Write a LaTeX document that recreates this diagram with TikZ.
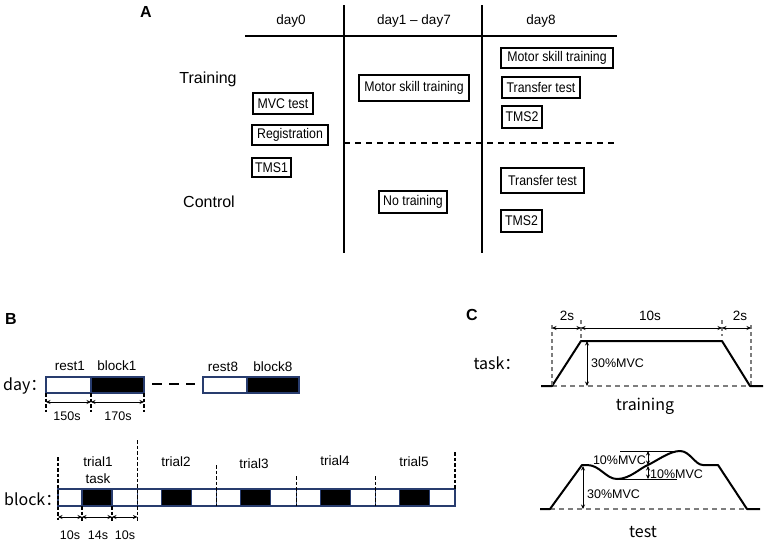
\documentclass[tikz,border=0pt]{standalone}
\usepackage{fontspec}
\setmainfont{Liberation Sans}
\newfontfamily\cjk{Noto Sans CJK SC}
\newfontfamily\narrowsans[FakeStretch=0.88]{Liberation Sans}
\usetikzlibrary{arrows.meta}
\definecolor{segblue}{RGB}{40,60,110}
\definecolor{midgray}{RGB}{125,125,125}
\begin{document}
\begin{tikzpicture}[x=1pt,y=-1pt,
  box/.style={draw,line width=1.3pt,inner sep=0pt,font=\fontsize{14}{16}\narrowsans},
  lbl/.style={inner sep=0pt,font=\fontsize{13.5}{15}\selectfont},
  big/.style={inner sep=0pt,font=\fontsize{16}{18}\selectfont},
  panel/.style={inner sep=0pt,font=\fontsize{16}{18}\selectfont\bfseries},
  cjklbl/.style={inner sep=0pt,font=\fontsize{16}{18}\selectfont\cjk},
  small/.style={inner sep=0pt,font=\fontsize{12.5}{14}\selectfont},
  rule/.style={line width=1.4pt},
  seg/.style={draw=segblue,line width=1.2pt},
  vd/.style={line width=1.2pt,dash pattern=on 3.5pt off 2pt},
  dim/.style={{Stealth[length=4.5pt,width=4pt]}-{Stealth[length=4.5pt,width=4pt]},line width=0.9pt},
  prof/.style={line width=2pt,line join=round},
  gbase/.style={draw=midgray,line width=1.4pt,dash pattern=on 5pt off 4pt}]
\useasboundingbox (0,0) rectangle (766,544);
\fill[white] (0,0) rectangle (766,544);
% ---------------- Panel A ----------------
\node[panel] (A) at (146,12) {A};
\node[lbl] (d0) at (291,21) {day0};
\node[lbl] (d17) at (414,21) {day1 – day7};
\node[lbl] (d8) at (541,21) {day8};
\coordinate (hl) at (245,36); \coordinate (hr) at (617,36);
\draw[rule] (hl) -- (hr);
\coordinate (v1t) at (344,5); \coordinate (v1b) at (344,253);
\coordinate (v2t) at (482,5); \coordinate (v2b) at (482,253);
\draw[rule] (v1t) -- (v1b);
\draw[rule] (v2t) -- (v2b);
\coordinate (dl) at (344,143); \coordinate (dr) at (618,143);
\draw[line width=1.3pt,dash pattern=on 6pt off 5pt] (dl) -- (dr);
\node[big] (tr) at (208,79) {Training};
\node[big] (ct) at (209,202) {Control};
\node[box,minimum width=60pt,minimum height=21pt] (mvc) at (283,103.5) {MVC test};
\node[box,minimum width=76pt,minimum height=20pt] (reg) at (290,135) {Registration};
\node[box,minimum width=39pt,minimum height=19pt] (tms1) at (271.5,167.5) {TMS1};
\node[box,minimum width=110pt,minimum height=26pt] (mst) at (414,88) {Motor skill training};
\node[box,minimum width=112pt,minimum height=20pt] (mst8) at (557,58) {Motor skill training};
\node[box,minimum width=78pt,minimum height=21pt] (tt8) at (541,87.5) {Transfer test};
\node[box,minimum width=40pt,minimum height=22pt] (tms2a) at (522,117) {TMS2};
\node[box,minimum width=68pt,minimum height=22pt] (nt) at (413,202) {No training};
\node[box,minimum width=83pt,minimum height=25pt] (ttc) at (542.5,180.5) {Transfer test};
\node[box,minimum width=41pt,minimum height=22pt] (tms2b) at (521.5,221) {TMS2};
% ---------------- Panel B ----------------
\node[panel] (B) at (11,319) {B};
\node[cjklbl,anchor=west] (dayl) at (3,386) {day：};
\node[lbl] (r1) at (70,366) {rest1};
\node[lbl] (b1) at (117,366) {block1};
\node[lbl] (r8) at (223,367) {rest8};
\node[lbl] (b8) at (273,367) {block8};
\draw[seg,fill=white] (46,377) rectangle (91,393);
\draw[seg,fill=black] (91,377) rectangle (144,393);
\draw[seg,fill=white] (203,377) rectangle (247,393);
\draw[seg,fill=black] (247,377) rectangle (299,393);
\coordinate (gl) at (152,384); \coordinate (gr) at (195,384);
\draw[line width=1.4pt,dash pattern=on 10pt off 7pt] (gl) -- (gr);
\foreach \x/\n in {46/a,91/b,144/c}{
  \coordinate (dt\n) at (\x,393); \coordinate (db\n) at (\x,412);
  \draw[vd] (dt\n) -- (db\n);
  \coordinate (da\n) at (\x,402);
}
\draw[dim] (daa) -- (dab);
\draw[dim] (dab) -- (dac);
\node[small] (s150) at (67,416) {150s};
\node[small] (s170) at (118,416) {170s};
% block row
\node[cjklbl,anchor=west] (blockl) at (4,499) {block：};
\foreach \i in {0,...,4}{
  \pgfmathsetmacro{\bx}{58+79.4*\i}
  \draw[seg,fill=white] (\bx,489) rectangle ({\bx+24},506);
  \draw[seg,fill=black] ({\bx+24},489) rectangle ({\bx+54},506);
  \draw[seg,fill=white] ({\bx+54},489) rectangle ({\bx+79.4},506);
}
\foreach \i/\t/\b in {0/457/520,1/440/521,2/465/506,3/476/506,4/476/506,5/452/489}{
  \pgfmathsetmacro{\bx}{58+79.4*\i}
  \coordinate (tt\i) at (\bx,\t); \coordinate (tb\i) at (\bx,\b);
  \draw[vd] (tt\i) -- (tb\i);
}
\coordinate (s1t) at (82,506); \coordinate (s1b) at (82,521);
\coordinate (s2t) at (112,506); \coordinate (s2b) at (112,521);
\draw[vd] (s1t) -- (s1b);
\draw[vd] (s2t) -- (s2b);
\coordinate (ea) at (58,517); \coordinate (eb) at (82,517);
\coordinate (ec) at (112,517); \coordinate (ed) at (137.4,517);
\draw[dim] (ea) -- (eb);
\draw[dim] (eb) -- (ec);
\draw[dim] (ec) -- (ed);
\node[small] (t10a) at (70,535) {10s};
\node[small] (t14) at (98,535) {14s};
\node[small] (t10b) at (125,535) {10s};
\node[lbl] (tr1) at (98,462) {trial1};
\node[lbl] (task1) at (98,479) {task};
\node[lbl] (tr2) at (176,462) {trial2};
\node[lbl] (tr3) at (254,464) {trial3};
\node[lbl] (tr4) at (335,461) {trial4};
\node[lbl] (tr5) at (414,462) {trial5};
% ---------------- Panel C ----------------
\node[panel] (C) at (472,315) {C};
\node[cjklbl] (taskl) at (497,363) {task：};
% training profile
\coordinate (p0) at (541,386); \coordinate (p1) at (552,386);
\coordinate (p2) at (581,341); \coordinate (p3) at (722,341);
\coordinate (p4) at (750,386); \coordinate (p5) at (763,386);
\draw[gbase] (p1) -- (p4);
\draw[prof] (p0) -- (p1) -- (p2) -- (p3) -- (p4) -- (p5);
\coordinate (g1t) at (552,325); \coordinate (g2t) at (581,320);
\coordinate (g3t) at (722,320); \coordinate (g4t) at (751,325);
\coordinate (g3b) at (722,336); \coordinate (g4b) at (751,386);
\draw[midgray,line width=1.2pt,dash pattern=on 4pt off 3pt] (g1t) -- (p1);
\draw[midgray,line width=1.2pt,dash pattern=on 4pt off 3pt] (g2t) -- (p2);
\draw[midgray,line width=1.2pt,dash pattern=on 4pt off 3pt] (g3t) -- (g3b);
\draw[midgray,line width=1.2pt,dash pattern=on 4pt off 3pt] (g4t) -- (g4b);
\coordinate (ta) at (552,328); \coordinate (tb) at (581,328);
\coordinate (tc) at (722,328); \coordinate (td) at (751,328);
\draw[dim] (ta) -- (tb);
\draw[dim] (tb) -- (tc);
\draw[dim] (tc) -- (td);
\node[lbl] (c2a) at (567,316) {2s};
\node[lbl] (c10) at (650,316) {10s};
\node[lbl] (c2b) at (740,316) {2s};
\coordinate (m1t) at (587,341); \coordinate (m1b) at (587,386);
\draw[dim] (m1t) -- (m1b);
\node[small,anchor=west] (mvc30a) at (591,363) {30\%MVC};
\node[cjklbl] (trl) at (645,406) {training};
% test profile
\coordinate (q0) at (540,509); \coordinate (q1) at (550,509);
\coordinate (q2) at (582,465); \coordinate (q8) at (703,465);
\coordinate (q9) at (718,465); \coordinate (q10) at (747,509);
\coordinate (q11) at (760,509);
\draw[gbase] (q1) -- (q10);
\draw[prof] (q0) -- (q1) -- (q2) -- (587,465)
  .. controls (600,465) and (606,479) .. (617,479)
  .. controls (630,479) and (640,468) .. (648,465)
  .. controls (658,460) and (670,451) .. (680,451)
  .. controls (690,451) and (695,465) .. (q8) -- (q9) -- (q10) -- (q11);
\coordinate (h1l) at (620,451); \coordinate (h1r) at (680,451);
\coordinate (h2l) at (617,479); \coordinate (h2r) at (677,479);
\draw[line width=1pt] (h1l) -- (h1r);
\draw[line width=1pt] (h2l) -- (h2r);
\coordinate (u1) at (648,451); \coordinate (u2) at (648,465);
\coordinate (u3) at (648,466); \coordinate (u4) at (648,479);
\draw[dim] (u1) -- (u2);
\draw[dim] (u3) -- (u4);
\node[small,anchor=east] (mvc10a) at (646,460) {10\%MVC};
\node[small,anchor=west] (mvc10b) at (650,474) {10\%MVC};
\coordinate (m2t) at (583,466); \coordinate (m2b) at (583,509);
\draw[dim] (m2t) -- (m2b);
\node[small,anchor=west] (mvc30b) at (587,494) {30\%MVC};
\node[cjklbl] (tsl) at (643,532) {test};
\end{tikzpicture}
\end{document}
